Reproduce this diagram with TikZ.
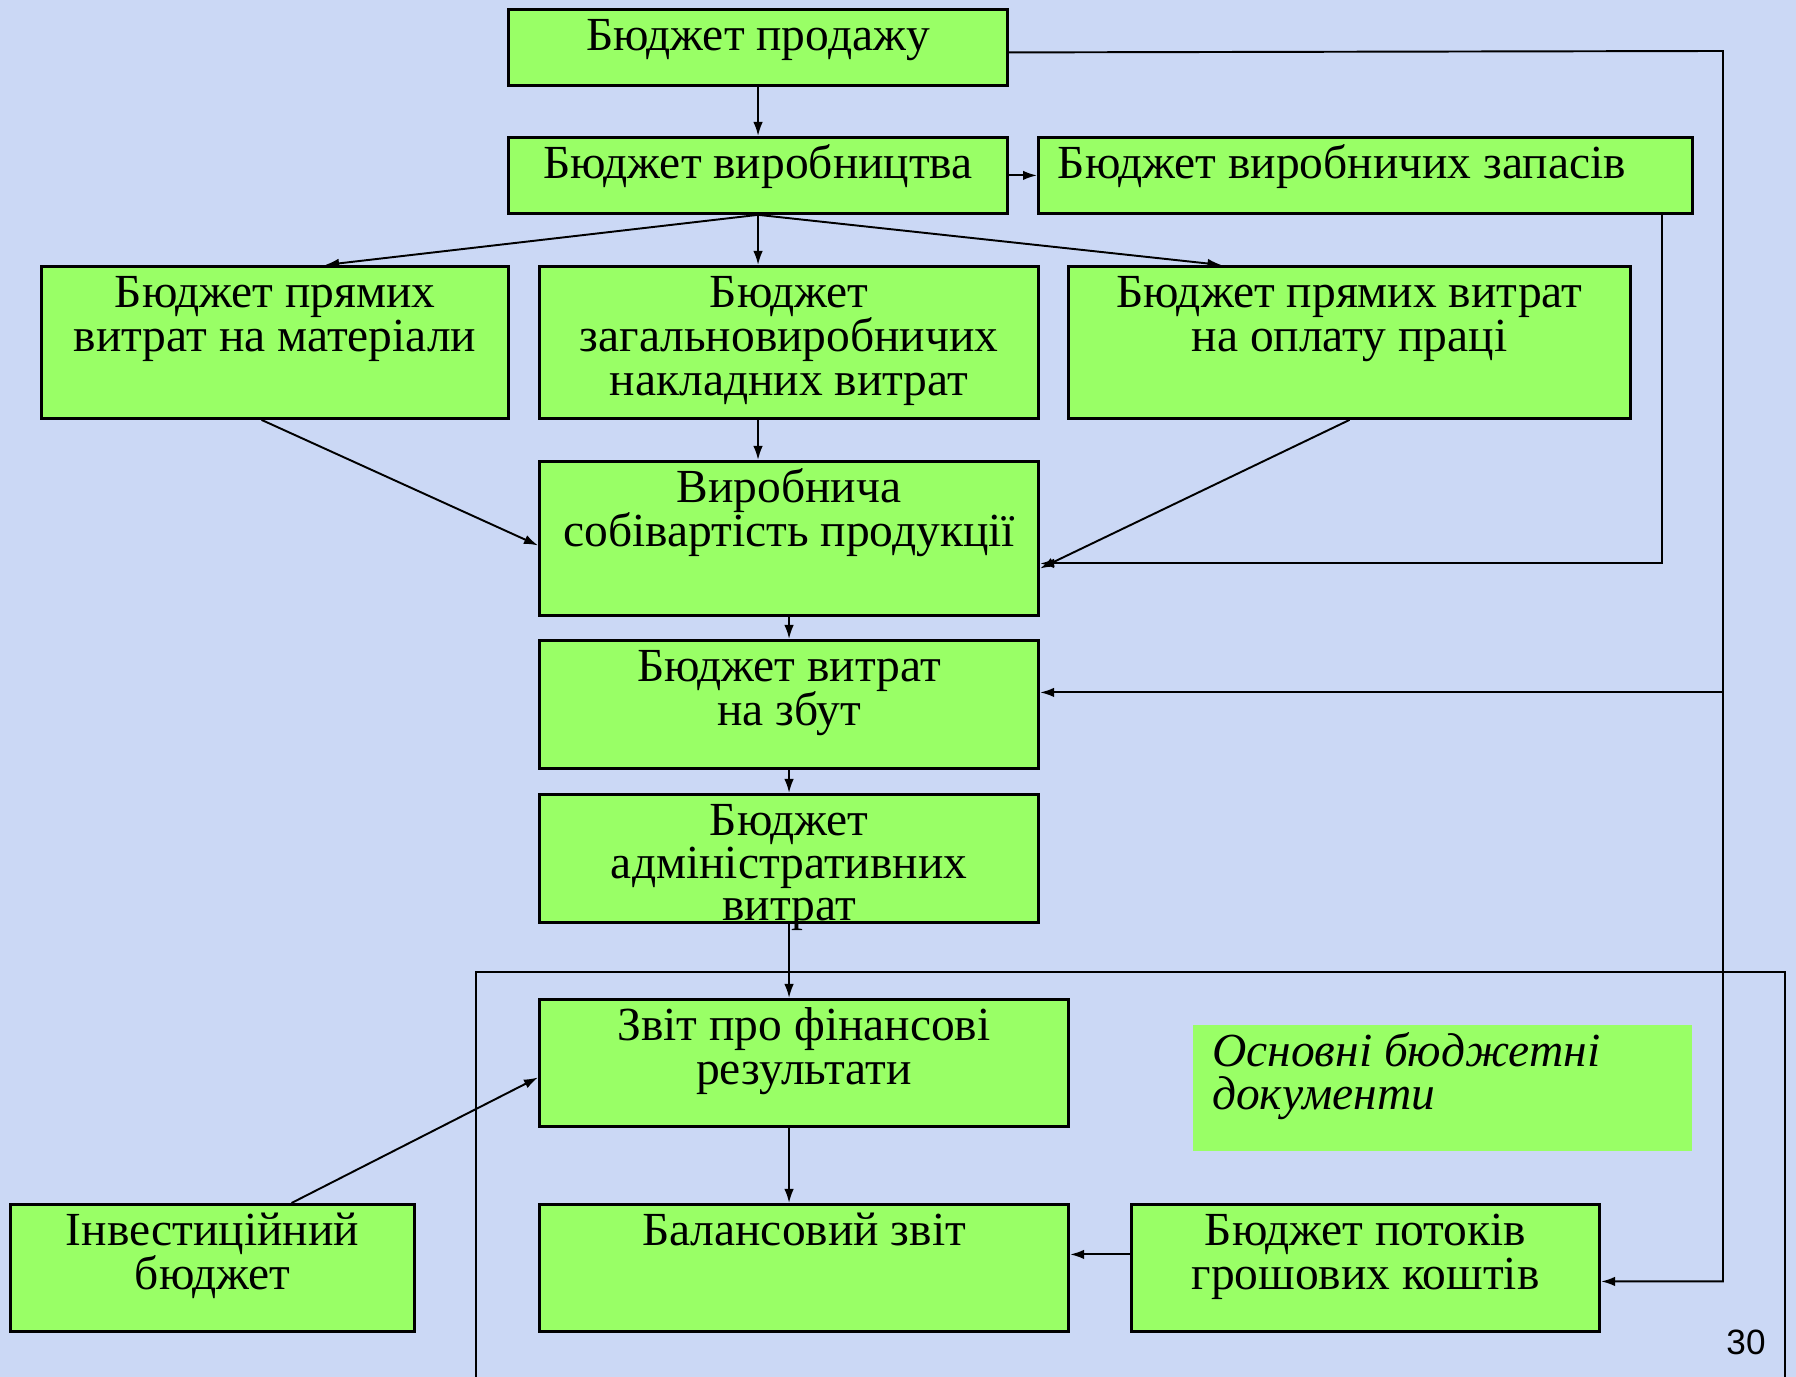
\documentclass[tikz,border=0pt]{standalone}
\usepackage{fontspec}
\setmainfont{Liberation Serif}
\newfontfamily\arialf{Liberation Sans}
\usetikzlibrary{arrows.meta}
\definecolor{boxgreen}{RGB}{153,255,102}
\definecolor{bgblue}{RGB}{203,216,245}
\newcommand\btxt[5][12.4pt]{\parbox[t][#3][t]{#2}{\fontsize{13.5pt}{#1}\selectfont\lineskiplimit=-50pt\lineskip=0pt #4\rule{0pt}{11.8pt}#5}}
\tikzset{
 bbox/.style={draw=black, line width=0.8pt, fill=boxgreen, inner sep=0pt, anchor=north west},
 nbox/.style={fill=boxgreen, inner sep=0pt, anchor=north west},
 arr/.style={line width=0.55pt, -{Latex[length=1.4mm,width=0.95mm]}},
 ln/.style={line width=0.55pt}
}
\begin{document}
\begin{tikzpicture}[x=0.01cm,y=-0.01cm]
\fill[bgblue] (0,0) rectangle (1796,1377);
\useasboundingbox (0,0) rectangle (1796,1377);
% boxes
\node[bbox] (prod) at (507,8) {\btxt{4.99cm}{0.76cm}{\centering}{Бюджет продажу}};
\node[bbox] (virob) at (507,136) {\btxt{4.99cm}{0.76cm}{\centering}{Бюджет виробництва}};
\node[bbox] (zap) at (1037,136) {\btxt{6.54cm}{0.76cm}{\raggedright\leftskip=0.195cm}{Бюджет виробничих запасів}};
\node[bbox] (mat) at (40,265) {\btxt{4.67cm}{1.52cm}{\centering}{Бюджет прямих\\витрат на матеріали}};
\node[bbox] (zag) at (538,265) {\btxt{4.99cm}{1.52cm}{\centering}{Бюджет\\загальновиробничих\\накладних витрат}};
\node[bbox] (opl) at (1067,265) {\btxt{5.62cm}{1.52cm}{\centering}{Бюджет прямих витрат\\на оплату праці}};
\node[bbox] (sob) at (538,460) {\btxt{4.99cm}{1.54cm}{\centering}{Виробнича\\собівартість продукції}};
\node[bbox] (zbut) at (538,639) {\btxt{4.99cm}{1.28cm}{\centering}{Бюджет витрат\\на збут}};
\node[bbox] (adm) at (538,793) {\btxt[12.1pt]{4.99cm}{1.28cm}{\centering}{Бюджет\\адміністративних\\витрат}};
\node[bbox] (fin) at (538,998) {\btxt{5.29cm}{1.27cm}{\centering}{Звіт про фінансові\\результати}};
\node[bbox] (bal) at (538,1203) {\btxt{5.29cm}{1.27cm}{\centering}{Балансовий звіт}};
\node[bbox] (inv) at (9,1203) {\btxt{4.04cm}{1.27cm}{\centering}{Інвестиційний\\бюджет}};
\node[bbox] (pot) at (1130,1203) {\btxt{4.68cm}{1.27cm}{\centering}{Бюджет потоків\\грошових коштів}};
\node[nbox] (osn) at (1192,1024) {\btxt{4.99cm}{1.26cm}{\raggedright\leftskip=0.195cm\itshape}{Основні бюджетні\\документи}};
\node[font=\arialf\fontsize{10pt}{12pt}\selectfont] (num) at (1746,1342) {30};
% connectors
\draw[arr] (prod.south) -- (virob.north);
\draw[arr] (virob.east) -- (zap.west);
\draw[arr] (virob.south) -- ([xshift=0.5cm]mat.north);
\draw[arr] (virob.south) -- (virob.south |- zag.north);
\draw[arr] (virob.south) -- ([xshift=-1.28cm]opl.north);
\draw[arr] ([xshift=-0.31cm]zag.south) -- ([xshift=-0.31cm]sob.north);
\draw[arr] ([xshift=-0.135cm]mat.south) -- ([yshift=-0.07cm]sob.west);
\draw[arr] (opl.south) -- ([yshift=-0.3cm]sob.east);
\draw[arr] ([xshift=2.96cm]zap.south) |- ([yshift=-0.25cm]sob.east);
\draw[arr] (sob.south) -- (zbut.north);
\draw[arr] (zbut.south) -- (adm.north);
\draw[arr] (adm.south) -- (adm.south |- fin.north);
\draw[arr] (adm.south |- fin.south) -- (adm.south |- bal.north);
\draw[arr] ([xshift=0.79cm]inv.north) -- ([yshift=-0.145cm]fin.west);
\coordinate (pb) at ([yshift=0.135cm]pot.west);
\draw[arr] (pb) -- (bal.east |- pb);
\coordinate (rt) at (1723,51);
\draw[arr] ([yshift=-0.05cm]prod.east) -- (rt) |- ([yshift=-0.135cm]pot.east);
\coordinate (zb) at ([yshift=0.12cm]zbut.east);
\draw[arr] (rt |- zb) -- (zb);
% frame
\coordinate (fl) at (476,1377);
\coordinate (fr) at (1785,1377);
\draw[ln] (fl) -- (476,972) -- (1785,972) -- (fr);
\end{tikzpicture}
\end{document}
